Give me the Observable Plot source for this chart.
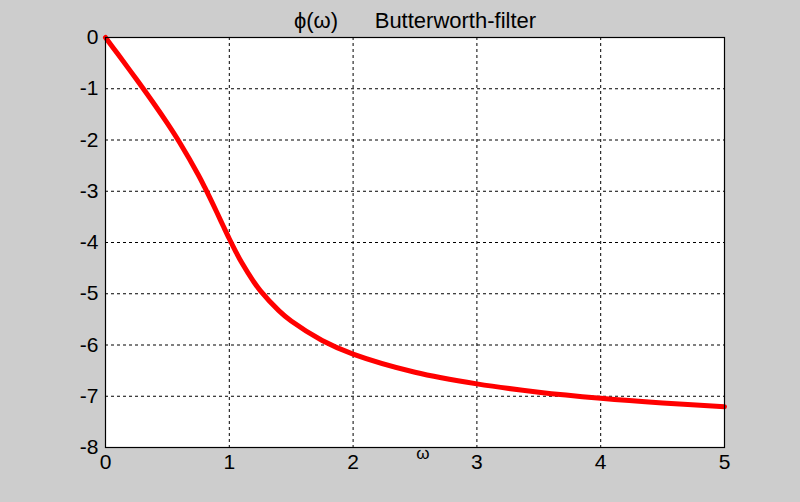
<!DOCTYPE html>
<html>
<head>
<meta charset="utf-8">
<script src="https://cdn.jsdelivr.net/npm/d3@7"></script>
<script src="https://cdn.jsdelivr.net/npm/@observablehq/plot@0.6"></script>
<style>
  html, body { margin: 0; padding: 0; background: #cdcdcd; }
  svg { display: block; }
</style>
</head>
<body>
<div id="chart"></div>
<script>
const omega = [0, 0.1, 0.25, 0.4, 0.5, 0.6, 0.75, 0.8, 0.9, 0.95, 1.0, 1.05, 1.1, 1.2, 1.25, 1.4, 1.5, 1.75, 2.0, 2.5, 3.0, 3.5, 4.0, 4.5, 5.0];
const phase = [0, -0.324, -0.816, -1.323, -1.677, -2.054, -2.682, -2.916, -3.415, -3.673, -3.927, -4.168, -4.392, -4.776, -4.939, -5.330, -5.533, -5.911, -6.177, -6.531, -6.759, -6.920, -7.038, -7.130, -7.203];
const xTicks = [0, 1, 2, 3, 4, 5];
const yTicks = [0, -1, -2, -3, -4, -5, -6, -7, -8];
const titleText = "\u03d5(\u03c9)\u00a0\u00a0\u00a0\u00a0\u00a0\u00a0Butterworth-filter";
const xLabel = "\u03c9";

const data = omega.map((w, i) => ({w, p: phase[i]}));

const chart = Plot.plot({
  width: 800,
  height: 502,
  marginLeft: 105,
  marginRight: 76,
  marginTop: 37,
  marginBottom: 55,
  style: {background: "#cdcdcd", fontFamily: "Liberation Sans, Arial, sans-serif"},
  x: {domain: [0, 5]},
  y: {domain: [-8, 0]},
  marks: [
    Plot.frame({fill: "white"}),
    Plot.gridX(xTicks.slice(1, -1), {stroke: "black", strokeOpacity: 1, strokeDasharray: "3,3", strokeWidth: 1}),
    Plot.gridY(yTicks.slice(1, -1), {stroke: "black", strokeOpacity: 1, strokeDasharray: "3,3", strokeWidth: 1}),
    Plot.line(data, {x: "w", y: "p", stroke: "#ff0000", strokeWidth: 5, curve: "catmull-rom"}),
    Plot.frame({stroke: "black", strokeWidth: 1.2}),
    Plot.axisX(xTicks, {tickSize: 0, tickPadding: 7, fontSize: 21, fill: "black", tickFormat: d => String(d), label: null}),
    Plot.axisY(yTicks, {tickSize: 0, tickPadding: 7, fontSize: 21, fill: "black", tickFormat: d => String(d), label: null}),
    Plot.text([titleText], {frameAnchor: "top", dy: -25, fontSize: 22, fill: "black"}),
    Plot.text([xLabel], {frameAnchor: "bottom", dx: 8, dy: 11, fontSize: 17, fill: "black"})
  ]
});
document.getElementById("chart").appendChild(chart);
</script>
</body>
</html>
